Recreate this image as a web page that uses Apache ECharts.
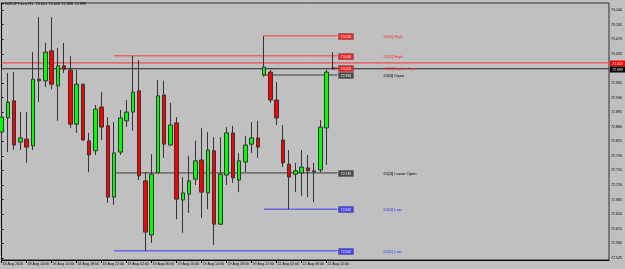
<!DOCTYPE html>
<html><head><meta charset="utf-8">
<script src="https://cdn.jsdelivr.net/npm/echarts@6/dist/echarts.min.js"></script>
<style>html,body{margin:0;padding:0;background:#c0c0c0}#c{width:625px;height:269px}</style>
</head><body><div id="c"></div>
<script>
// ---------- data ----------
const symbolTitle = 'NZDJPY.ecn,H1';
const opens  = [72.847,72.881,72.922,72.823,72.830,72.814,72.974,72.970,73.042,72.958,73.006,72.996,72.866,72.962,72.826,72.802,72.907,72.862,72.691,72.799,72.874,72.895,72.946,72.730,72.600,72.749,72.936,72.816,72.869,72.684,72.698,72.734,72.780,72.701,72.802,72.626,72.744,72.845,72.732,72.775,72.818,72.833,72.984,72.991,72.924,72.828,72.770,72.746,72.749,72.761,72.751,72.756,72.857,73.001];
const highs  = [72.996,72.989,72.991,72.895,72.895,73.039,73.123,73.061,73.123,73.049,73.061,73.030,72.996,72.962,72.845,72.912,72.943,72.883,72.871,72.900,72.924,73.030,73.020,72.751,72.794,72.972,72.970,72.917,72.883,72.739,72.790,72.826,72.857,72.847,72.835,72.835,72.859,72.862,72.797,72.838,72.871,72.874,73.078,72.996,72.967,72.864,72.804,72.773,72.804,72.792,72.773,72.876,72.996,73.039];
const lows   = [72.780,72.799,72.804,72.804,72.773,72.804,72.919,72.955,72.950,72.874,72.989,72.857,72.845,72.826,72.751,72.792,72.828,72.677,72.672,72.792,72.859,72.850,72.732,72.562,72.581,72.749,72.785,72.814,72.638,72.605,72.653,72.720,72.641,72.662,72.576,72.624,72.720,72.725,72.703,72.751,72.797,72.785,72.980,72.917,72.864,72.763,72.662,72.703,72.694,72.691,72.679,72.751,72.768,72.996];
const closes = [72.883,72.919,72.816,72.833,72.811,72.974,72.970,73.039,72.962,73.006,72.998,72.866,72.962,72.828,72.792,72.902,72.859,72.691,72.797,72.881,72.895,72.943,72.742,72.607,72.746,72.934,72.818,72.864,72.686,72.701,72.730,72.778,72.703,72.804,72.626,72.746,72.845,72.737,72.778,72.816,72.833,72.811,73.003,72.924,72.881,72.773,72.739,72.754,72.763,72.754,72.754,72.859,72.991,72.999];

const xTickBars   = [0,4,8,12,16,20,24,28,32,36,40,44,48,52];
const xTickLabels = ['18 Aug 2016','18 Aug 10:00','18 Aug 14:00','18 Aug 18:00','18 Aug 22:00','19 Aug 02:00','19 Aug 06:00','19 Aug 10:00','19 Aug 14:00','19 Aug 18:00','19 Aug 22:00','22 Aug 02:00','22 Aug 06:00','22 Aug 10:00'];
const yTickValues = [73.140,73.105,73.070,73.035,72.965,72.930,72.895,72.860,72.825,72.790,72.755,72.720,72.685,72.650,72.615,72.580,72.545];

const levelNames     = ['D1[0] High','D1[1] High','H1[0] Higher Open','D1[0] Open','D1[0] Lower Open','D1[0] Low','D1[1] Low'];
const levelPrices    = [73.078,73.030,73.001,72.984,72.749,72.662,72.562];
const levelStartBars = [42,18,53,42,18,42,18];
const bidPrice = 72.999;
const askPrice = 73.013;

// ---------- layout / styles ----------
const X_MIN = 0, X_MAX = 97.2;
const Y_MIN = 72.540, Y_MAX = 73.1568;
const BOX_BAR = 53.76, TEXT_BAR = 61.1;
const FONT = '"Liberation Sans", Arial, sans-serif';
function styleFor(name){
  if (name.indexOf('High') >= 0) return {line:'#ff3c3c', box:'#ff2020', text:'#ff2828'};
  if (name.indexOf('Low') >= 0 && name.indexOf('Lower') < 0) return {line:'#3c3cff', box:'#4040ff', text:'#3030ff'};
  return {line:'#3a3a3a', box:'#4a4a4a', text:'#000000'};
}

const candleData = opens.map((o,i)=>[i, o, closes[i], lows[i], highs[i]]);

const series = [{
  type:'candlestick',
  data: candleData,
  encode:{x:0, y:[1,2,3,4]},
  barWidth:4,
  itemStyle:{color:'#00ff00', color0:'#ff0000', borderColor:'#333333', borderColor0:'#333333', borderColorDoji:'#333333', borderWidth:1},
  z:5, silent:true
}];

// level lines
levelNames.forEach((n,i)=>{
  const st = styleFor(n);
  series.push({type:'line', data:[[levelStartBars[i], levelPrices[i]],[BOX_BAR, levelPrices[i]]],
    symbol:'none', silent:true, z:3, lineStyle:{color:st.line, width:1}});
});
// ask / bid lines (full width)
series.push({type:'line', data:[[X_MIN, askPrice],[X_MAX, askPrice]], symbol:'none', silent:true, z:3, lineStyle:{color:'#ff3030', width:1}});
series.push({type:'line', data:[[X_MIN, bidPrice],[X_MAX, bidPrice]], symbol:'none', silent:true, z:3, lineStyle:{color:'#202020', width:1}});

// level label boxes + names
series.push({
  type:'custom', silent:true, z:8, clip:false,
  data: levelPrices.map((p,i)=>[BOX_BAR, p, i]),
  encode:{x:0, y:1},
  renderItem:(params, api)=>{
    const i = api.value(2);
    const st = styleFor(levelNames[i]);
    const pt = api.coord([api.value(0), api.value(1)]);
    const tp = api.coord([TEXT_BAR, api.value(1)]);
    const y = Math.round(pt[1]) + 0.5;
    const x = Math.round(pt[0]) + 0.5;
    return {type:'group', children:[
      {type:'rect', shape:{x:x, y:y-3, width:15, height:6}, style:{fill:st.box, stroke:'#606060', lineWidth:0.6}},
      {type:'text', x:x+7.5, y:y+0.3, style:{text:levelPrices[i].toFixed(3), fill:'#ffffff', font:'3.4px '+FONT, align:'center', verticalAlign:'middle'}},
      {type:'text', x:tp[0], y:y+0.3, style:{text:levelNames[i], fill:st.text, font:'4.1px '+FONT, align:'left', verticalAlign:'middle'}}
    ]};
  }
});

// ask / bid price tags on the right axis
series.push({
  type:'custom', silent:true, z:9, clip:false,
  data:[[X_MAX, askPrice, 0],[X_MAX, bidPrice, 1]],
  encode:{x:0, y:1},
  renderItem:(params, api)=>{
    const k = api.value(2);
    const p = api.value(1);
    const pt = api.coord([api.value(0), p]);
    const y = Math.round(pt[1]) + 0.5;
    return {type:'group', children:[
      {type:'rect', shape:{x:pt[0]+1, y:y-3, width:16, height:6}, style:{fill: k===0 ? '#ff0000' : '#000000'}},
      {type:'text', x:pt[0]+3, y:y+0.3, style:{text:p.toFixed(3), fill:'#ffffff', font:'3.6px '+FONT, align:'left', verticalAlign:'middle'}}
    ]};
  }
});

const chart = echarts.init(document.getElementById('c'), null, {renderer:'canvas'});
chart.setOption({
  animation:false,
  backgroundColor:'#c0c0c0',
  title:{
    text:'\u25BE ' + symbolTitle + '  ' + [opens[53],highs[53],lows[53],closes[53]].map(v=>v.toFixed(3)).join(' '),
    left:2, top:2, padding:0,
    textStyle:{fontSize:3.9, fontWeight:'normal', color:'#000', fontFamily:FONT}
  },
  grid:{left:1.5, top:3, right:16, bottom:9, show:true, borderColor:'#303030', borderWidth:1, backgroundColor:'#c0c0c0', containLabel:false, outerBoundsMode:'none'},
  xAxis:{
    type:'value', min:X_MIN, max:X_MAX, position:'bottom',
    axisLine:{show:true, onZero:false, lineStyle:{color:'#000', width:1}},
    axisTick:{show:true, customValues:xTickBars, length:3, inside:false, lineStyle:{color:'#000', width:1}},
    axisLabel:{show:true, customValues:xTickBars, formatter:(v)=>{const k = xTickBars.indexOf(Math.round(v)); return k>=0 ? xTickLabels[k] : '';},
      fontSize:3.6, color:'#000', align:'left', margin:2, fontFamily:FONT, padding:[0,0,0,1], showMinLabel:true},
    splitLine:{show:false}
  },
  yAxis:{
    type:'value', min:Y_MIN, max:Y_MAX, position:'right', scale:true,
    axisLine:{show:true, lineStyle:{color:'#000', width:1}},
    axisTick:{show:true, customValues:yTickValues, length:2, lineStyle:{color:'#000'}},
    axisLabel:{show:true, customValues:yTickValues, formatter:(v)=>v.toFixed(3), fontSize:3.6, color:'#000', margin:2, fontFamily:FONT},
    splitLine:{show:false}
  },
  series: series
});
</script>
</body></html>
